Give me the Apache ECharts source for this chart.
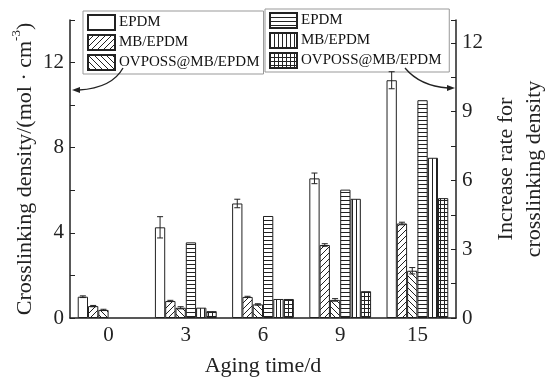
<!DOCTYPE html>
<html>
<head>
<meta charset="utf-8">
<script src="https://cdn.jsdelivr.net/npm/echarts@6/dist/echarts.min.js"></script>
<style>
html,body{margin:0;padding:0;background:#fff}
#chart{width:550px;height:378px}
</style>
</head>
<body>
<div id="chart"></div>
<script>
var days = ['0', '3', '6', '9', '15'];
// crosslinking density, left axis
var densityEPDM = [1.0, 4.26, 5.38, 6.56, 11.17];
var densityMB = [0.56, 0.80, 0.99, 3.43, 4.44];
var densityOV = [0.38, 0.48, 0.64, 0.85, 2.22];
var errEPDM = [0.04, 0.5, 0.2, 0.25, 0.4];
var errMB = [0.03, 0.03, 0.03, 0.06, 0.06];
var errOV = [0.03, 0.05, 0.03, 0.06, 0.15];
// increase rate, right axis
var rateEPDM = ['-', 3.3, 4.45, 5.6, 9.5];
var rateMB = ['-', 0.45, 0.83, 5.2, 6.99];
var rateOV = ['-', 0.3, 0.83, 1.17, 5.23];
var names = ['EPDM', 'MB/EPDM', 'OVPOSS@MB/EPDM'];

var font = "'Liberation Serif', 'Times New Roman', serif";
var ink = '#222';

//填充图案
function hatch(kind) {
    var s = (kind == 'fwd' || kind == 'back') ? 6 : 4;
    var c = document.createElement('canvas');
    c.width = s; c.height = s;
    var g = c.getContext('2d');
    g.fillStyle = '#fff';
    g.fillRect(0, 0, s, s);
    g.strokeStyle = ink;
    g.lineWidth = 1;
    g.beginPath();
    if (kind == 'fwd') {
        g.moveTo(-1, s + 1); g.lineTo(s + 1, -1);
        g.moveTo(-2, 2); g.lineTo(2, -2);
        g.moveTo(s - 2, s + 2); g.lineTo(s + 2, s - 2);
    } else if (kind == 'back') {
        g.moveTo(-1, -1); g.lineTo(s + 1, s + 1);
        g.moveTo(-2, s - 2); g.lineTo(2, s + 2);
        g.moveTo(s - 2, -2); g.lineTo(s + 2, 2);
    }
    if (kind == 'h' || kind == 'grid') {
        g.moveTo(0, 0.5); g.lineTo(s, 0.5);
    }
    if (kind == 'v' || kind == 'grid') {
        g.moveTo(0.5, 0); g.lineTo(0.5, s);
    }
    g.stroke();
    return {image: c, repeat: 'repeat'};
}

function barSeries(name, data, fill, axis) {
    return {
        name: name,
        type: 'bar',
        yAxisIndex: axis,
        data: data,
        barGap: '0%',
        barCategoryGap: '20%',
        itemStyle: {color: fill, borderColor: ink, borderWidth: 1}
    };
}

function legendBox(list, x, y) {
    return {
        data: list.map(function (n) { return {name: n}; }),
        orient: 'vertical',
        left: x, top: y,
        icon: 'rect',
        itemWidth: 27, itemHeight: 15, itemGap: 3,
        padding: [3, 4, 3, 4],
        borderColor: '#999', borderWidth: 1,
        backgroundColor: '#fff',
        selectedMode: false,
        textStyle: {fontFamily: font, fontSize: 15, color: '#111', padding: [0, 0, 0, -1]}
    };
}

//误差棒
var errData = [];
var means = [densityEPDM, densityMB, densityOV];
var errs = [errEPDM, errMB, errOV];
for (var k = 0; k < 3; k++) {
    for (var i = 0; i < days.length; i++) {
        errData.push([i, means[k][i], errs[k][i], k]);
    }
}

var chart = echarts.init(document.getElementById('chart'));

var option = {
    animation: false,
    backgroundColor: '#fff',
    textStyle: {fontFamily: font, color: ink},
    grid: {left: 70, right: 94, top: 20, bottom: 60, containLabel: false, outerBoundsMode: 'none'},
    legend: [
        legendBox(names, 83, 11),
        legendBox(names.map(function (n) { return n + ' '; }), 265, 9)
    ],
    xAxis: {
        type: 'category',
        data: days,
        name: 'Aging time/d',
        nameLocation: 'middle',
        nameGap: 37,
        nameMoveOverlap: false,
        nameTextStyle: {fontFamily: font, fontSize: 22, color: ink},
        axisLine: {lineStyle: {color: ink, width: 1.5}},
        axisTick: {inside: true, length: 4, lineStyle: {color: ink}},
        axisLabel: {fontFamily: font, fontSize: 21, color: ink, margin: 7}
    },
    yAxis: [{
        type: 'value',
        min: 0, max: 14, interval: 2,
        name: '{a|Crosslinking density/(mol · cm}{s|-3}{a|)}',
        nameLocation: 'middle',
        nameRotate: 90,
        nameGap: 34,
        nameMoveOverlap: false,
        nameTextStyle: {
            rich: {
                a: {fontFamily: font, fontSize: 22, color: ink, lineHeight: 26, verticalAlign: 'bottom'},
                s: {fontFamily: font, fontSize: 13, color: ink, lineHeight: 26, verticalAlign: 'top'}
            }
        },
        axisLine: {show: true, lineStyle: {color: ink, width: 1.5}},
        axisTick: {show: true, inside: true, length: 5, lineStyle: {color: ink}},
        splitLine: {show: false},
        axisLabel: {
            fontFamily: font, fontSize: 21, color: ink, margin: 6,
            formatter: function (v) { return v % 4 === 0 ? v : ''; }
        }
    }, {
        type: 'value',
        min: 0, max: 13, interval: 1.5,
        position: 'right',
        name: 'Increase rate for\ncrosslinking density',
        nameLocation: 'middle',
        nameRotate: 90,
        nameGap: 36,
        nameMoveOverlap: false,
        nameTextStyle: {fontFamily: font, fontSize: 22, color: ink, lineHeight: 28},
        axisLine: {show: true, lineStyle: {color: ink, width: 1.5}},
        axisTick: {show: true, inside: true, length: 5, lineStyle: {color: ink}},
        splitLine: {show: false},
        axisLabel: {
            fontFamily: font, fontSize: 21, color: ink, margin: 6,
            formatter: function (v) { return v % 3 === 0 ? v : ''; }
        }
    }],
    series: [
        barSeries(names[0], densityEPDM, '#fff', 0),
        barSeries(names[1], densityMB, hatch('fwd'), 0),
        barSeries(names[2], densityOV, hatch('back'), 0),
        barSeries(names[0] + ' ', rateEPDM, hatch('h'), 1),
        barSeries(names[1] + ' ', rateMB, hatch('v'), 1),
        barSeries(names[2] + ' ', rateOV, hatch('grid'), 1),
        {
            type: 'custom',
            yAxisIndex: 0,
            z: 5,
            data: errData,
            encode: {x: 0, y: 1},
            renderItem: function (params, api) {
                var cat = api.value(0), m = api.value(1), e = api.value(2), idx = api.value(3);
                var band = api.size([1, 0])[0];
                var bw = band * 0.8 / 6;
                var x = api.coord([cat, m])[0] - band * 0.4 + bw * (idx + 0.5);
                var yT = api.coord([cat, m + e])[1];
                var yB = api.coord([cat, m - e])[1];
                var st = {stroke: ink, lineWidth: 1};
                return {
                    type: 'group',
                    children: [
                        {type: 'line', shape: {x1: x, y1: yT, x2: x, y2: yB}, style: st},
                        {type: 'line', shape: {x1: x - 3, y1: yT, x2: x + 3, y2: yT}, style: st},
                        {type: 'line', shape: {x1: x - 3, y1: yB, x2: x + 3, y2: yB}, style: st}
                    ]
                };
            }
        }
    ],
    //指向坐标轴的箭头
    graphic: [
        {type: 'bezierCurve', shape: {x1: 123, y1: 68, cpx1: 112, cpy1: 88, x2: 79, y2: 90}, style: {stroke: ink, lineWidth: 1.3, fill: null}, z: 10},
        {type: 'polygon', shape: {points: [[72, 90], [80, 87], [80, 93]]}, style: {fill: ink}, z: 10},
        {type: 'bezierCurve', shape: {x1: 405, y1: 68, cpx1: 420, cpy1: 86, x2: 448, y2: 88}, style: {stroke: ink, lineWidth: 1.3, fill: null}, z: 10},
        {type: 'polygon', shape: {points: [[455, 88], [447, 85], [447, 91]]}, style: {fill: ink}, z: 10}
    ]
};
chart.setOption(option);
</script>
</body>
</html>
